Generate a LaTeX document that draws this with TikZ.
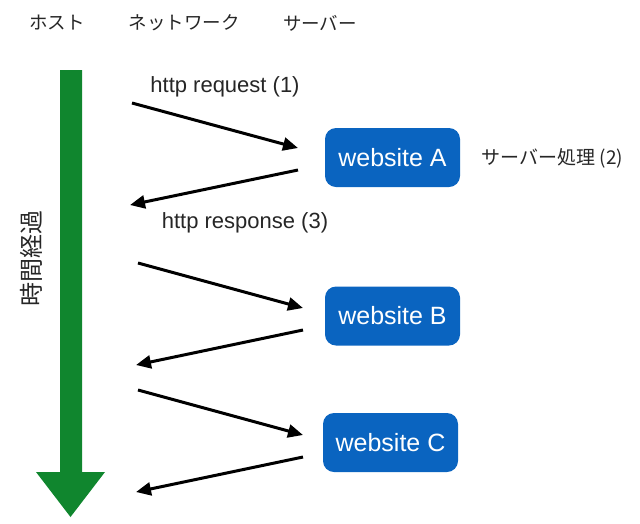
\documentclass[tikz,border=0pt]{standalone}
\usepackage{fontspec}
\setmainfont{Liberation Sans}
\newfontfamily\jp{Noto Sans CJK JP}
\usetikzlibrary{arrows.meta}
\definecolor{timegreen}{RGB}{16,134,46}
\definecolor{siteblue}{RGB}{10,100,192}
\tikzset{
  site/.style={fill=siteblue, rounded corners=11pt, minimum width=135pt, minimum height=59pt,
    text=white, font=\fontsize{25}{28}\selectfont, inner sep=0pt},
  msg/.style={line width=3pt, -{Triangle[length=15pt,width=13pt]}},
  title/.style={font=\jp\fontsize{18.5}{20}\selectfont, text=black!85},
  lbl/.style={font=\fontsize{22}{24}\selectfont, text=black!85, inner sep=0pt}
}
\begin{document}
\begin{tikzpicture}[x=1pt,y=-1pt]
\useasboundingbox (0,0) rectangle (640,523);
% titles
\node[title] (th) at (57,23) {ホスト};
\node[title] (tn) at (184,23) {ネットワーク};
\node[title] (ts) at (320,23) {サーバー};
% time arrow
\fill[timegreen] (60,70) -- (82,70) -- (82,472) -- (105,472) -- (70.5,517) -- (36,472) -- (60,472) -- cycle;
\node[font=\jp\fontsize{24}{26}\selectfont, rotate=90, text=black!85] (time) at (31,258) {時間経過};
% servers
\node[site] (A) at (392.5,157.5) {website A};
\node[site] (B) at (392.5,316) {website B};
\node[site] (C) at (390.5,442.5) {website C};
\node[font=\jp\fontsize{19}{21}\selectfont, text=black!85, inner sep=0pt] (proc) at (552.5,158) {サーバー処理 (2)};
% labels
\node[lbl] (req) at (225,87) {http request (1)};
\node[lbl] (res) at (245,223) {http response (3)};
% endpoints
\coordinate (a1) at (132,103); \coordinate (a2) at (298,148);
\coordinate (a3) at (298,170); \coordinate (a4) at (130,205);
\coordinate (b1) at (138,263); \coordinate (b2) at (303,308);
\coordinate (b3) at (303,330); \coordinate (b4) at (136,365);
\coordinate (c1) at (138,390); \coordinate (c2) at (303,435);
\coordinate (c3) at (303,457); \coordinate (c4) at (136,492);
\draw[msg] (a1) -- (a2);
\draw[msg] (a3) -- (a4);
\draw[msg] (b1) -- (b2);
\draw[msg] (b3) -- (b4);
\draw[msg] (c1) -- (c2);
\draw[msg] (c3) -- (c4);
\end{tikzpicture}
\end{document}
